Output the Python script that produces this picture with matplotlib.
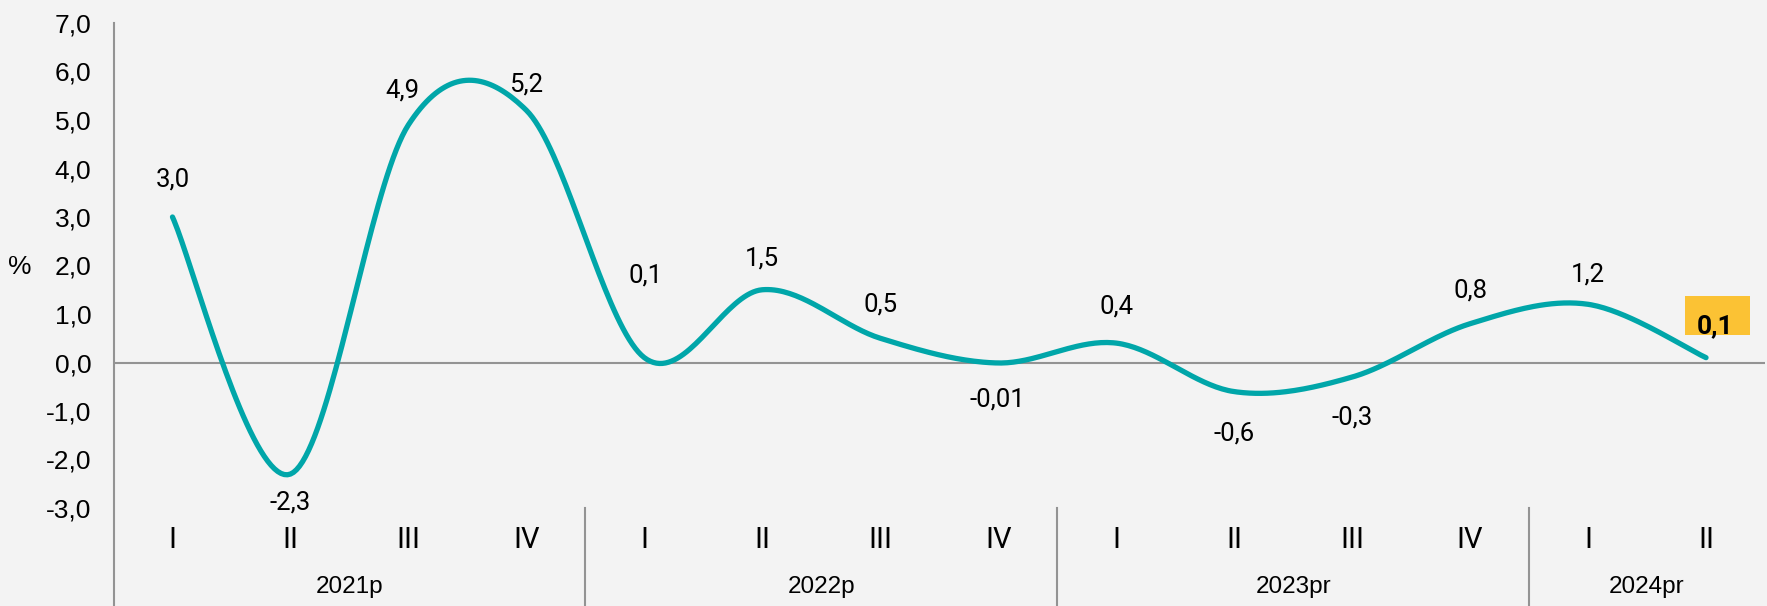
import numpy as np
import matplotlib
matplotlib.use("Agg")
import matplotlib.pyplot as plt
from matplotlib import transforms
from matplotlib.patches import Rectangle

# quarterly variation, %
quarters = ["I", "II", "III", "IV", "I", "II", "III", "IV", "I", "II", "III", "IV", "I", "II"]
years = ["2021p", "2022p", "2023pr", "2024pr"]
year_len = [4, 4, 4, 2]
values = [3.0, -2.3, 4.9, 5.2, 0.1, 1.5, 0.5, -0.01, 0.4, -0.6, -0.3, 0.8, 1.2, 0.1]
labels = ["3,0", "-2,3", "4,9", "5,2", "0,1", "1,5", "0,5", "-0,01", "0,4", "-0,6", "-0,3", "0,8", "1,2", "0,1"]
yticks = [7, 6, 5, 4, 3, 2, 1, 0, -1, -2, -3]

# label offsets in pixels (dx, dy) from each point
offsets = [(0, 37), (0, -28), (-6, 34), (0, 26), (1, 82), (0, 31), (0, 34),
           (-1, -37), (0, 37), (0, -42), (0, -40), (0, 33), (0, 30), (9, 31)]

BG = "#f3f3f3"
TEAL = "#00a6a9"
GREY = "#939393"
NARROW = ["Roboto", "DejaVu Sans"]
SANS = ["Liberation Sans", "DejaVu Sans"]


def smooth(x, y, n=40):
    # bezier smoothing like a spreadsheet "smoothed line"
    x = np.asarray(x, float); y = np.asarray(y, float)
    px = np.concatenate([[x[0]], x, [x[-1]]])
    py = np.concatenate([[y[0]], y, [y[-1]]])
    xs, ys = [], []
    t = np.linspace(0, 1, n)
    for i in range(len(x) - 1):
        p0 = np.array([px[i + 1], py[i + 1]])
        p3 = np.array([px[i + 2], py[i + 2]])
        c1 = p0 + (p3 - np.array([px[i], py[i]])) / 6
        c2 = p3 - (np.array([px[i + 3], py[i + 3]]) - p0) / 6
        b = ((1 - t) ** 3)[:, None] * p0 + (3 * (1 - t) ** 2 * t)[:, None] * c1 \
            + (3 * (1 - t) * t ** 2)[:, None] * c2 + (t ** 3)[:, None] * p3
        xs.extend(b[:, 0]); ys.extend(b[:, 1])
    return xs, ys


W, H = 1767, 606
fig = plt.figure(figsize=(W / 100, H / 100), dpi=100)
fig.patch.set_facecolor(BG)
ax = fig.add_axes([113.5 / W, 1 - 508 / H, 1651.5 / W, 485 / H])
ax.set_facecolor(BG)

x = np.arange(len(values))
sx, sy = smooth(x, values)
ax.plot(sx, sy, color=TEAL, lw=3.8, solid_capstyle="round", zorder=3)
ax.axhline(0, color=GREY, lw=1.5, zorder=2)

ax.set_xlim(-0.5, len(values) - 0.5)
ax.set_ylim(-3, 7)
for s in ax.spines.values():
    s.set_visible(False)

ax.set_yticks(yticks)
ax.set_yticklabels([f"{v:.1f}".replace(".", ",") for v in yticks], family=SANS, fontsize=19)
ax.tick_params(axis="y", length=0, pad=16)
ax.set_xticks([])

# axis line, quarter and year labels, group separators
trans = transforms.blended_transform_factory(ax.transData, ax.transAxes)
ax.plot([-0.5, -0.5], [1, -0.21], color=GREY, lw=1.5, transform=trans, clip_on=False)
for i, q in enumerate(quarters):
    ax.text(i, -0.066, q, transform=trans, ha="center", va="center", family=NARROW, fontsize=21)
start = 0
for yr, n in zip(years, year_len):
    ax.text(start + (n - 1) / 2, -0.163, yr, transform=trans, ha="center", va="center",
            family=SANS, fontsize=17.5)
    end = start + n - 0.5
    if end < len(values) - 0.5:
        ax.plot([end, end], [0, -0.21], color=GREY, lw=1.5, transform=trans, clip_on=False)
    start += n

# data labels
last = len(values) - 1
for i, (v, lab, (dx, dy)) in enumerate(zip(values, labels, offsets)):
    ax.annotate(lab, (i, v), xytext=(dx, dy), textcoords="offset pixels",
                ha="center", va="center", fontsize=19 if i == last else 18.5, family=NARROW,
                fontweight="bold" if i == last else "normal", zorder=5)

# highlight box behind the latest value
px, py = ax.transData.transform((last, values[last]))
ax.add_artist(Rectangle((px - 21.5, py + 23), 65, 39, transform=transforms.IdentityTransform(),
                        fc="#fbc234", ec="none", zorder=4, clip_on=False))

fig.text(20 / W, 1 - 267 / H, "%", ha="center", va="center", family=SANS, fontsize=19)

fig.savefig("out.png", dpi=100, facecolor=BG)
